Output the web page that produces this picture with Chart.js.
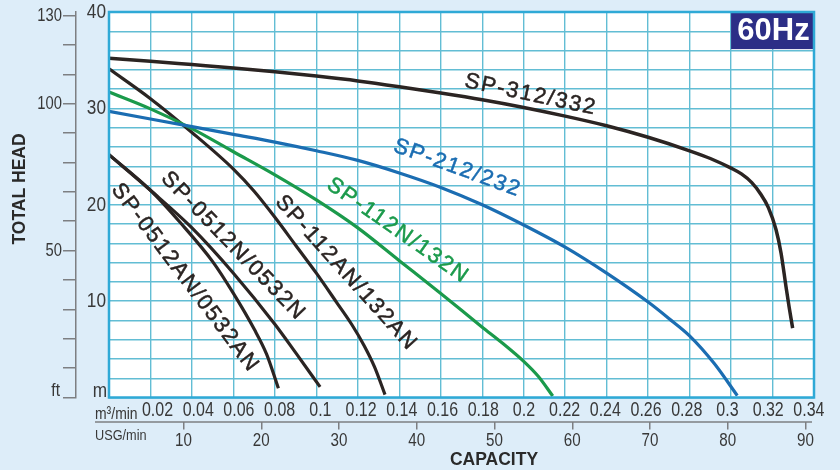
<!DOCTYPE html>
<html><head><meta charset="utf-8">
<script src="https://cdn.jsdelivr.net/npm/chart.js@4.4.1/dist/chart.umd.min.js"></script>
<style>html,body{margin:0;padding:0;background:#ddedf9;}#wrap{width:840px;height:470px;}</style>
</head><body><div id="wrap"><canvas id="c" width="840" height="470"></canvas></div>
<script>
// ---- tick labels ----
const capTicksM3 = [0.02,0.04,0.06,0.08,0.1,0.12,0.14,0.16,0.18,0.2,0.22,0.24,0.26,0.28,0.3,0.32,0.34];
const capTicksUSG = [10,20,30,40,50,60,70,80,90];
const headLabelsM = [10,20,30,40];
const headTicksFt = [0,10,20,30,40,50,60,70,80,90,100,110,120,130];
const headLabelsFt = [50,100,130];

// ---- series (capacity m3/min, total head m) ----
const sp312Flow = [0,0.02,0.04,0.06,0.08,0.10,0.12,0.14,0.16,0.18,0.20,0.22,0.24,0.26,0.28,0.29,0.30,0.305,0.31,0.314,0.318,0.3217,0.3241,0.3265,0.328,0.3297];
const sp312Head = [35.2,34.9,34.55,34.2,33.8,33.35,32.85,32.25,31.6,30.9,30.1,29.2,28.2,27.0,25.6,24.8,23.8,23.2,22.3,21.2,19.7,17.4,15.0,11.5,9.4,7.2];

const sp212Flow = [0,0.02,0.04,0.06,0.08,0.10,0.12,0.14,0.16,0.18,0.20,0.22,0.24,0.26,0.27,0.28,0.292,0.303];
const sp212Head = [29.7,28.9,28.1,27.3,26.5,25.6,24.6,23.3,21.8,20.0,17.9,15.6,12.9,9.9,8.2,6.4,3.5,0.2];

const sp112nFlow = [0,0.02,0.04,0.06,0.08,0.10,0.12,0.14,0.16,0.18,0.19,0.20,0.207,0.214];
const sp112nHead = [31.7,29.95,27.9,25.5,23.1,20.5,17.6,14.2,10.8,7.3,5.6,3.75,2.2,0.15];

const sp112anFlow = [0,0.02,0.04,0.06,0.07,0.08,0.09,0.10,0.11,0.117,0.123,0.128,0.1331];
const sp112anHead = [34.1,31.0,27.5,23.7,21.4,18.7,15.8,12.9,9.8,7.6,5.4,3.2,0.3];

const sp0512nFlow = [0,0.02,0.04,0.06,0.08,0.09,0.1018];
const sp0512nHead = [25.2,21.5,17.6,12.9,7.6,4.65,1.1];

const sp0512anFlow = [0,0.02,0.035,0.05,0.06,0.07,0.076,0.0817];
const sp0512anHead = [25.2,21.5,18.0,14.1,10.8,7.1,4.5,0.95];

const BLACK = '#2b2422', BLUE = '#1b6db2', GREEN = '#1b9a4b';
const GRID = '#62bdd4', FRAME = '#2fa9d6', AXIS = '#7d7f82', TXT = '#383838';
const SANS = "'Liberation Sans',Arial,sans-serif";
const SQUEEZE = 0.82;

const series = [
  {label:'SP-312/332', flow:sp312Flow, head:sp312Head, color:BLACK, width:3.5},
  {label:'SP-212/232', flow:sp212Flow, head:sp212Head, color:BLUE, width:3.2},
  {label:'SP-112N/132N', flow:sp112nFlow, head:sp112nHead, color:GREEN, width:3.2},
  {label:'SP-112AN/132AN', flow:sp112anFlow, head:sp112anHead, color:BLACK, width:3.2},
  {label:'SP-0512N/0532N', flow:sp0512nFlow, head:sp0512nHead, color:BLACK, width:3.2},
  {label:'SP-0512AN/0532AN', flow:sp0512anFlow, head:sp0512anHead, color:BLACK, width:3.2}
];

// curve name labels: anchor in data units (capacity, head), rotation in degrees
const curveLabels = [
  {text:'SP-312/332', q:0.2034, h:31.4, angle:12, color:BLACK},
  {text:'SP-212/232', q:0.168, h:23.8, angle:20, color:BLUE},
  {text:'SP-112N/132N', q:0.1393, h:17.3, angle:35, color:GREEN},
  {text:'SP-112AN/132AN', q:0.1144, h:12.9, angle:48, color:BLACK},
  {text:'SP-0512N/0532N', q:0.0599, h:15.7, angle:46, color:BLACK},
  {text:'SP-0512AN/0532AN', q:0.0367, h:12.4, angle:53, color:BLACK}
];

function narrowText(ctx, text, x, y, size, align, baseline){
  ctx.save();
  ctx.font = size + "px " + SANS;
  ctx.textAlign = align; ctx.textBaseline = baseline;
  ctx.translate(x, y); ctx.scale(SQUEEZE, 1);
  ctx.fillText(text, 0, 0);
  ctx.restore();
}

const decor = {
  id:'decor',
  beforeDraw(chart){
    const {ctx, chartArea:a} = chart;
    ctx.save();
    ctx.fillStyle = '#ddedf9';
    ctx.fillRect(0,0,chart.width,chart.height);
    ctx.fillStyle = '#ffffff';
    ctx.fillRect(a.left,a.top,a.right-a.left,a.bottom-a.top);
    ctx.restore();
  },
  afterDatasetsDraw(chart){
    const {ctx} = chart;
    const x = chart.scales.x, y = chart.scales.y;
    ctx.save();
    // 60Hz box
    const bx0 = x.getPixelForValue(0.30), bx1 = x.getPixelForValue(0.34);
    const by0 = y.getPixelForValue(40), by1 = y.getPixelForValue(36.15);
    ctx.fillStyle = '#2c2e86';
    ctx.fillRect(bx0, by0, bx1-bx0, by1-by0);
    ctx.fillStyle = '#ffffff';
    ctx.font = "bold 31px " + SANS;
    ctx.textAlign = 'center'; ctx.textBaseline = 'middle';
    ctx.fillText('60Hz', (bx0+bx1)/2 + 1, (by0+by1)/2 + 1);
    // curve labels
    ctx.font = "22px " + SANS;
    ctx.letterSpacing = '1.8px';
    ctx.lineWidth = 0.5;
    for (const L of curveLabels){
      ctx.save();
      ctx.translate(x.getPixelForValue(L.q), y.getPixelForValue(L.h));
      ctx.rotate(L.angle*Math.PI/180);
      ctx.fillStyle = L.color; ctx.strokeStyle = L.color;
      ctx.textAlign = 'center'; ctx.textBaseline = 'middle';
      ctx.fillText(L.text, 0, 0);
      ctx.strokeText(L.text, 0, 0);
      ctx.restore();
    }
    ctx.restore();
  },
  afterDraw(chart){
    const {ctx, chartArea:a} = chart;
    const y = chart.scales.y, ft = chart.scales.ft, usg = chart.scales.usg, xm3 = chart.scales.xm3;
    ctx.save();
    // frame
    ctx.strokeStyle = FRAME; ctx.lineWidth = 2.5;
    ctx.strokeRect(a.left, a.top, a.right-a.left, a.bottom-a.top);
    // usg axis line
    ctx.strokeStyle = AXIS; ctx.lineWidth = 1.5;
    ctx.beginPath();
    ctx.moveTo(a.left-14, usg.top+0.5); ctx.lineTo(a.right-2, usg.top+0.5);
    ctx.stroke();
    ctx.fillStyle = TXT;
    // tick labels from the scales
    for (const t of xm3.ticks) narrowText(ctx, String(t.value), xm3.getPixelForValue(t.value), a.bottom+13, 19.5, 'center', 'middle');
    for (const t of usg.ticks) narrowText(ctx, String(t.value), usg.getPixelForValue(t.value), usg.top+19, 18.5, 'center', 'middle');
    for (const v of headLabelsM) narrowText(ctx, String(v), a.left-3, y.getPixelForValue(v), 21, 'right', 'middle');
    for (const v of headLabelsFt) narrowText(ctx, String(v), ft.right-14, ft.getPixelForValue(v), 18, 'right', 'middle');
    narrowText(ctx, 'ft', ft.right-16, ft.getPixelForValue(0)-6.5, 19, 'right', 'middle');
    narrowText(ctx, 'm', a.left-2, y.getPixelForValue(0)-6.5, 21, 'right', 'middle');
    // unit labels
    narrowText(ctx, 'm\u00B3/min', a.left-14, usg.top-2.5, 17, 'left', 'alphabetic');
    narrowText(ctx, 'USG/min', a.left-14, usg.top+14, 15.5, 'left', 'middle');
    // axis titles
    ctx.fillStyle = '#2a2a2a';
    ctx.font = "bold 17.5px " + SANS;
    ctx.textAlign = 'center'; ctx.textBaseline = 'middle';
    ctx.fillText('CAPACITY', a.left+385, a.bottom+63);
    ctx.translate(20, a.top+177);
    ctx.rotate(-Math.PI/2);
    ctx.fillText('TOTAL HEAD', 0, 0);
    ctx.restore();
  }
};

new Chart(document.getElementById('c').getContext('2d'), {
  type:'line',
  data:{
    datasets: series.map(s => ({
      label:s.label,
      data:s.flow.map((q,i)=>({x:q, y:s.head[i]})),
      borderColor:s.color, borderWidth:s.width,
      pointRadius:0, fill:false,
      cubicInterpolationMode:'monotone',
      borderCapStyle:'butt',
      xAxisID:'x', yAxisID:'y'
    }))
  },
  options:{
    responsive:false, animation:false, devicePixelRatio:1,
    layout:{padding:{top:12, right:26, left:0, bottom:0}},
    plugins:{legend:{display:false}, tooltip:{enabled:false}},
    scales:{
      x:{type:'linear', position:'bottom', weight:0, min:0, max:0.34,
         ticks:{display:false, stepSize:0.02},
         grid:{color:GRID, lineWidth:1.4, drawTicks:false},
         border:{display:false},
         afterFit:s=>{s.height=0;}},
      xm3:{type:'linear', position:'bottom', weight:1, min:-0.00383, max:0.3425,
         afterBuildTicks:s=>{s.ticks = capTicksM3.map(v=>({value:v}));},
         ticks:{display:false},
         grid:{display:false}, border:{display:false},
         afterFit:s=>{s.height=24;}},
      usg:{type:'linear', position:'bottom', weight:2, min:0.418, max:91.09,
         afterBuildTicks:s=>{s.ticks = capTicksUSG.map(v=>({value:v}));},
         ticks:{display:false},
         grid:{drawOnChartArea:false, drawTicks:true, tickLength:8, color:AXIS, lineWidth:1.5},
         border:{display:false},
         afterFit:s=>{s.height=48.5;}},
      y:{type:'linear', position:'left', weight:0, min:0, max:40,
         ticks:{stepSize:2, autoSkip:false, display:false},
         grid:{color:GRID, lineWidth:1.4, drawTicks:false},
         border:{display:false},
         afterFit:s=>{s.width=33;}},
      ft:{type:'linear', position:'left', weight:1, min:0, max:40/0.3048,
         afterBuildTicks:s=>{s.ticks = headTicksFt.map(v=>({value:v}));},
         ticks:{display:false},
         grid:{drawOnChartArea:false, drawTicks:true, tickLength:13, color:AXIS, lineWidth:1.5},
         border:{display:true, color:AXIS, width:1.5},
         afterFit:s=>{s.width=76;}}
    }
  },
  plugins:[decor]
});
</script>
</body></html>
